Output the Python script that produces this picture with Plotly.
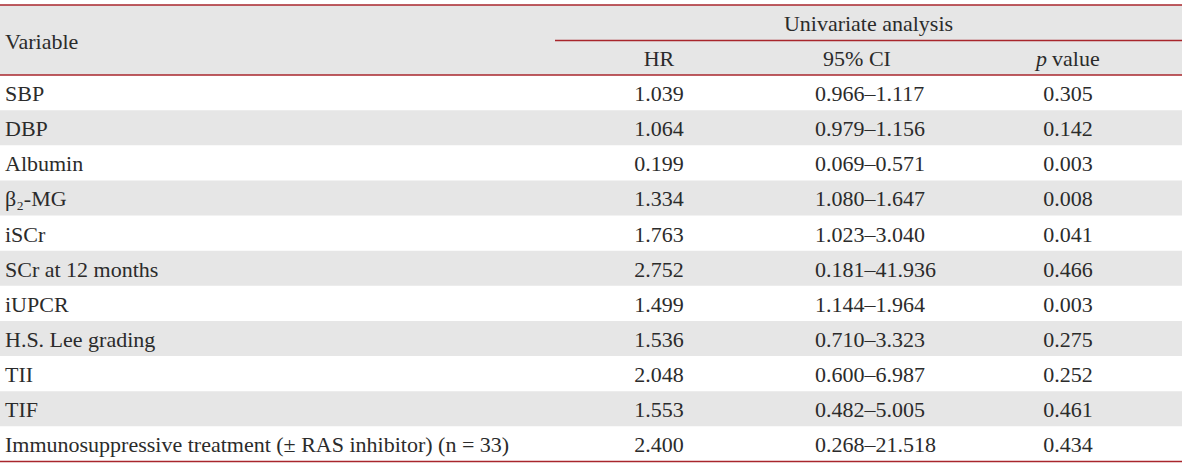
import plotly.graph_objects as go

variables = ["SBP", "DBP", "Albumin", "β₂-MG", "iSCr", "SCr at 12 months",
             "iUPCR", "H.S. Lee grading", "TII", "TIF",
             "Immunosuppressive treatment (± RAS inhibitor) (n = 33)"]
hr = ["1.039", "1.064", "0.199", "1.334", "1.763", "2.752", "1.499", "1.536", "2.048", "1.553", "2.400"]
ci = ["0.966–1.117", "0.979–1.156", "0.069–0.571", "1.080–1.647", "1.023–3.040", "0.181–41.936",
      "1.144–1.964", "0.710–3.323", "0.600–6.987", "0.482–5.005", "0.268–21.518"]
pval = ["0.305", "0.142", "0.003", "0.008", "0.041", "0.466", "0.003", "0.275", "0.252", "0.461", "0.434"]
header_group = "Univariate analysis"
col_headers = ["Variable", "HR", "95% CI"]
p_header = ["p", "value"]

W, H = 1200, 468
LEFT, RIGHT = 0, 1182
TOP, MID, HDR = 5, 40.5, 75
ROW_H = (461.5 - HDR) / len(variables)
X_HR, X_CI_LEFT, X_CI_HDR, X_P = 659, 815, 857, 1068
SUB_LEFT = 555
TEXT_DY = 3
GRAY = "#e6e6e6"
RED = "#a8262c"
TXT = "#2b2b2b"
FONT = "Liberation Serif"
FS = 22

centers = [HDR + ROW_H * (i + 0.5) + TEXT_DY for i in range(len(variables))]

shapes = [dict(type="rect", xref="x", yref="y", x0=LEFT, x1=RIGHT, y0=TOP, y1=HDR,
               fillcolor=GRAY, line_width=0, layer="below")]
for i in range(len(variables)):
    if i % 2 == 1:
        shapes.append(dict(type="rect", xref="x", yref="y", x0=LEFT, x1=RIGHT,
                           y0=HDR + ROW_H * i, y1=HDR + ROW_H * (i + 1),
                           fillcolor=GRAY, line_width=0, layer="below"))
for (x0, y) in [(LEFT, TOP), (SUB_LEFT, MID), (LEFT, HDR), (LEFT, HDR + ROW_H * len(variables))]:
    shapes.append(dict(type="line", xref="x", yref="y", x0=x0, x1=RIGHT, y0=y, y1=y,
                       line=dict(color=RED, width=1.5)))

fig = go.Figure()
font = dict(family=FONT, size=FS, color=TXT)
font_it = dict(family=FONT, size=FS, color=TXT, style="italic")
fig.add_trace(go.Scatter(x=[5] * len(variables), y=centers, text=variables, mode="text",
                         textposition="middle right", textfont=font, hoverinfo="skip"))
fig.add_trace(go.Scatter(x=[X_HR] * len(hr), y=centers, text=hr, mode="text",
                         textposition="middle center", textfont=font, hoverinfo="skip"))
fig.add_trace(go.Scatter(x=[X_CI_LEFT] * len(ci), y=centers, text=ci, mode="text",
                         textposition="middle right", textfont=font, hoverinfo="skip"))
fig.add_trace(go.Scatter(x=[X_P] * len(pval), y=centers, text=pval, mode="text",
                         textposition="middle center", textfont=font, hoverinfo="skip"))
# headers
y_h2 = (MID + HDR) / 2 + TEXT_DY
fig.add_trace(go.Scatter(x=[5], y=[(TOP + HDR) / 2 + TEXT_DY], text=[col_headers[0]], mode="text",
                         textposition="middle right", textfont=font, hoverinfo="skip"))
fig.add_trace(go.Scatter(x=[(SUB_LEFT + RIGHT) / 2], y=[(TOP + MID) / 2 + TEXT_DY], text=[header_group],
                         mode="text", textposition="middle center", textfont=font, hoverinfo="skip"))
fig.add_trace(go.Scatter(x=[X_HR, X_CI_HDR], y=[y_h2] * 2, text=col_headers[1:],
                         mode="text", textposition="middle center", textfont=font, hoverinfo="skip"))
fig.add_trace(go.Scatter(x=[X_P - 21], y=[y_h2], text=[p_header[0]], mode="text",
                         textposition="middle left", textfont=font_it, hoverinfo="skip"))
fig.add_trace(go.Scatter(x=[X_P - 16], y=[y_h2], text=[p_header[1]], mode="text",
                         textposition="middle right", textfont=font, hoverinfo="skip"))

fig.update_layout(
    width=W, height=H, margin=dict(l=0, r=0, t=0, b=0),
    paper_bgcolor="white", plot_bgcolor="white", showlegend=False, shapes=shapes,
    xaxis=dict(range=[0, W], visible=False, fixedrange=True),
    yaxis=dict(range=[H, 0], visible=False, fixedrange=True),
)
fig.write_html("out.html", config={"displayModeBar": False},
               post_script="document.body.style.margin='0';document.body.style.overflow='hidden';")
